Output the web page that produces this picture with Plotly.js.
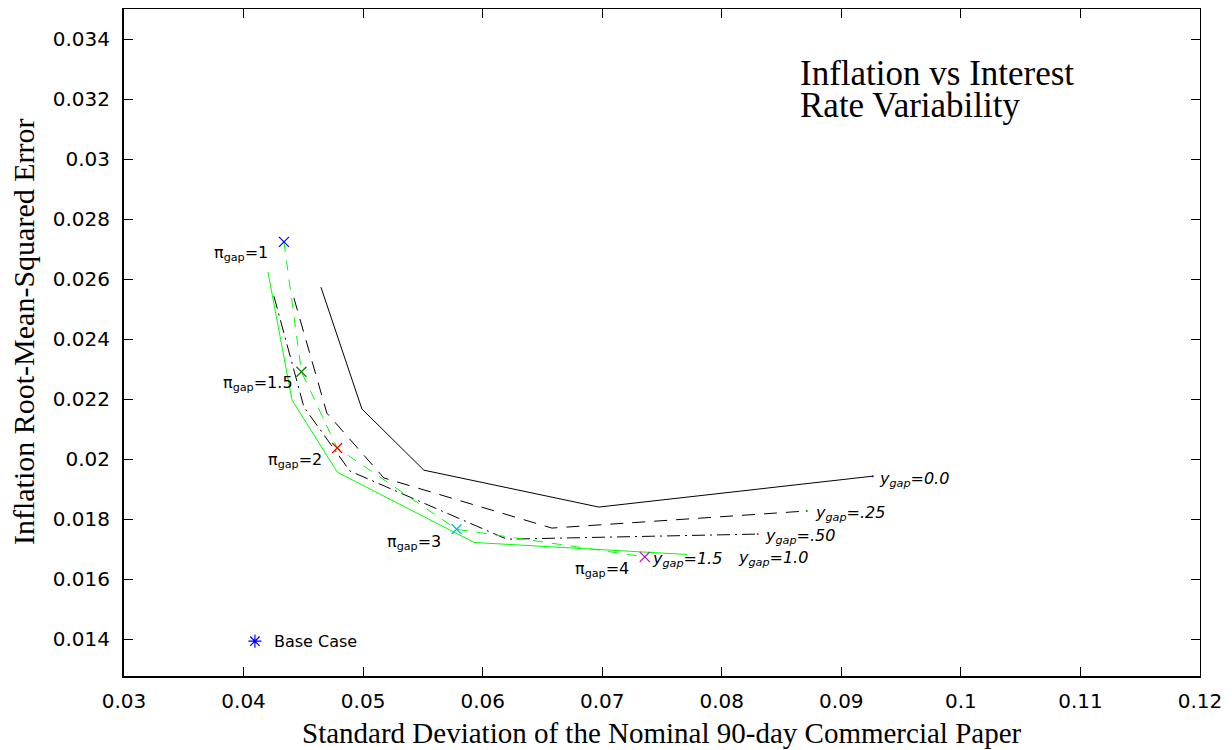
<!DOCTYPE html>
<html><head><meta charset="utf-8">
<script src="https://cdn.plot.ly/plotly-3.0.1.min.js"></script>
<style>html,body{margin:0;padding:0;background:#fff}</style>
</head><body><div id="chart" style="width:1232px;height:750px"></div>
<script>
// y_gap = 0.0 (solid black)
const sdYgap00   = [0.04647, 0.04990, 0.05508, 0.06972, 0.09263];
const rmseYgap00 = [0.02573, 0.02167, 0.01963, 0.01840, 0.01943];
// y_gap = .25 (dashed black)
const sdYgap25   = [0.04421, 0.04697, 0.05174, 0.06579, 0.08711];
const rmseYgap25 = [0.02537, 0.02153, 0.01937, 0.01770, 0.01827];
// y_gap = .50 (dash-dot black)
const sdYgap50   = [0.04254, 0.04505, 0.04890, 0.06202, 0.08301];
const rmseYgap50 = [0.02543, 0.02173, 0.01960, 0.01733, 0.01750];
// y_gap = 1.0 (solid green)
const sdYgap10   = [0.04204, 0.04405, 0.04785, 0.05929, 0.07710];
const rmseYgap10 = [0.02623, 0.02197, 0.01956, 0.01722, 0.01682];
// y_gap = 1.5 (dashed green, with pi_gap markers)
const sdYgap15   = [0.04338, 0.04484, 0.04783, 0.05782, 0.07356];
const rmseYgap15 = [0.02724, 0.02291, 0.02037, 0.01766, 0.01674];
const piGapValues = ['1', '1.5', '2', '3', '4'];
// base case
const baseSd = [0.04095];
const baseRmse = [0.01393];
// ticks
const xTickLabels = ['0.03','0.04','0.05','0.06','0.07','0.08','0.09','0.1','0.11','0.12'];
const yTickLabels = ['0.014','0.016','0.018','0.02','0.022','0.024','0.026','0.028','0.03','0.032','0.034'];

const xTickVals = xTickLabels.map(Number);
const yTickVals = yTickLabels.map(Number);
const piColors = ['#0000ff', '#008000', '#ff0000', '#00bfbf', '#bf00bf'];

const lineTrace = (x, y, color, dash) => ({
  x, y, type: 'scatter', mode: 'lines',
  line: {color, width: 1, dash}, hoverinfo: 'skip'
});

const last = a => a[a.length - 1];

const traces = [
  lineTrace(sdYgap00, rmseYgap00, '#000000', 'solid'),
  lineTrace(sdYgap25, rmseYgap25, '#000000', '13px,9px'),
  lineTrace(sdYgap50, rmseYgap50, '#000000', '13px,5px,2px,5px'),
  lineTrace(sdYgap10, rmseYgap10, '#00ff00', 'solid'),
  lineTrace(sdYgap15, rmseYgap15, '#00ff00', '10px,9px'),
  { // pi_gap markers
    x: sdYgap15, y: rmseYgap15, type: 'scatter', mode: 'markers',
    marker: {symbol: 'x-thin-open', size: 10, color: piColors, line: {color: piColors, width: 1.2}},
    hoverinfo: 'skip'
  },
  { // small end dots
    x: [last(sdYgap00), last(sdYgap25), last(sdYgap50)],
    y: [last(rmseYgap00), last(rmseYgap25), last(rmseYgap50)],
    type: 'scatter', mode: 'markers',
    marker: {symbol: 'circle', size: 2, color: ['#0000ff', '#008000', '#ff0000']},
    hoverinfo: 'skip'
  },
  { // base case
    x: baseSd, y: baseRmse, type: 'scatter', mode: 'markers',
    marker: {symbol: 'asterisk-open', size: 11, color: '#0000ff', line: {color: '#0000ff', width: 1.2}},
    hoverinfo: 'skip'
  },
  {x: [0.05], y: [0.02], xaxis: 'x2', yaxis: 'y2', type: 'scatter', mode: 'markers',
   marker: {opacity: 0}, hoverinfo: 'skip'}
];

const sans = 'DejaVu Sans';
const serif = 'Liberation Serif';
const lab = (x, y, text, italic) => ({
  x, y, xref: 'x', yref: 'y', text, showarrow: false,
  xanchor: 'left', yanchor: 'middle',
  font: {family: sans, size: 16, color: '#000', style: italic ? 'italic' : 'normal'}
});

const annotations = [
  lab(0.03736, 0.02686, 'π<sub>gap</sub>=' + piGapValues[0]),
  lab(0.03810, 0.02253, 'π<sub>gap</sub>=' + piGapValues[1]),
  lab(0.04187, 0.01996, 'π<sub>gap</sub>=' + piGapValues[2]),
  lab(0.05182, 0.01723, 'π<sub>gap</sub>=' + piGapValues[3]),
  lab(0.06754, 0.01633, 'π<sub>gap</sub>=' + piGapValues[4]),
  lab(0.07398, 0.01666, 'y<sub>gap</sub>=1.5', true),
  lab(0.08117, 0.01670, 'y<sub>gap</sub>=1.0', true),
  lab(0.08343, 0.01743, 'y<sub>gap</sub>=.50', true),
  lab(0.08761, 0.01820, 'y<sub>gap</sub>=.25', true),
  lab(0.09296, 0.01933, 'y<sub>gap</sub>=0.0', true),
  {x: 0.04237, y: 0.01393, xref: 'x', yref: 'y', text: 'Base Case', showarrow: false,
   xanchor: 'left', yanchor: 'middle', font: {family: sans, size: 16, color: '#000'}},
  {x: 0.08636, y: 0.03285, xref: 'x', yref: 'y', text: 'Inflation vs Interest', showarrow: false,
   xanchor: 'left', yanchor: 'middle', font: {family: serif, size: 35, color: '#000'}},
  {x: 0.08636, y: 0.03178, xref: 'x', yref: 'y', text: 'Rate Variability', showarrow: false,
   xanchor: 'left', yanchor: 'middle', font: {family: serif, size: 35, color: '#000'}},
  {x: 0.5, y: 0, xref: 'paper', yref: 'paper', yshift: -57, text: 'Standard Deviation of the Nominal 90-day Commercial Paper',
   showarrow: false, xanchor: 'center', yanchor: 'middle', font: {family: serif, size: 29, color: '#000'}},
  {x: 0, y: 0.5157, xref: 'paper', yref: 'paper', xshift: -101, textangle: -90,
   text: 'Inflation Root-Mean-Squared Error',
   showarrow: false, xanchor: 'center', yanchor: 'middle', font: {family: serif, size: 30, color: '#000'}}
];

const axBase = {
  showgrid: false, zeroline: false, ticks: 'inside', ticklen: 9, tickwidth: 1,
  tickcolor: '#000', showline: true, linecolor: '#000'
};

const layout = {
  width: 1232, height: 750,
  margin: {l: 124, r: 32, t: 9, b: 74},
  paper_bgcolor: '#fff', plot_bgcolor: '#fff',
  showlegend: false, hovermode: false,
  xaxis: Object.assign({}, axBase, {
    range: [0.03, 0.12], tickmode: 'array', tickvals: xTickVals, ticktext: xTickLabels,
    linewidth: 2, ticklabelstandoff: 6,
    tickfont: {family: sans, size: 20, color: '#000'}
  }),
  yaxis: Object.assign({}, axBase, {
    range: [0.01277, 0.035], tickmode: 'array', tickvals: yTickVals, ticktext: yTickLabels,
    linewidth: 2, ticklabelstandoff: 8,
    tickfont: {family: sans, size: 20, color: '#000'}
  }),
  xaxis2: Object.assign({}, axBase, {
    overlaying: 'x', side: 'top', anchor: 'y2', range: [0.03, 0.12],
    tickmode: 'array', tickvals: xTickVals, showticklabels: false, linewidth: 1
  }),
  yaxis2: Object.assign({}, axBase, {
    overlaying: 'y', side: 'right', anchor: 'x2', range: [0.01277, 0.035],
    tickmode: 'array', tickvals: yTickVals, showticklabels: false, linewidth: 1
  }),
  annotations
};

Plotly.newPlot('chart', traces, layout, {staticPlot: true, displayModeBar: false});
</script>
</body></html>
